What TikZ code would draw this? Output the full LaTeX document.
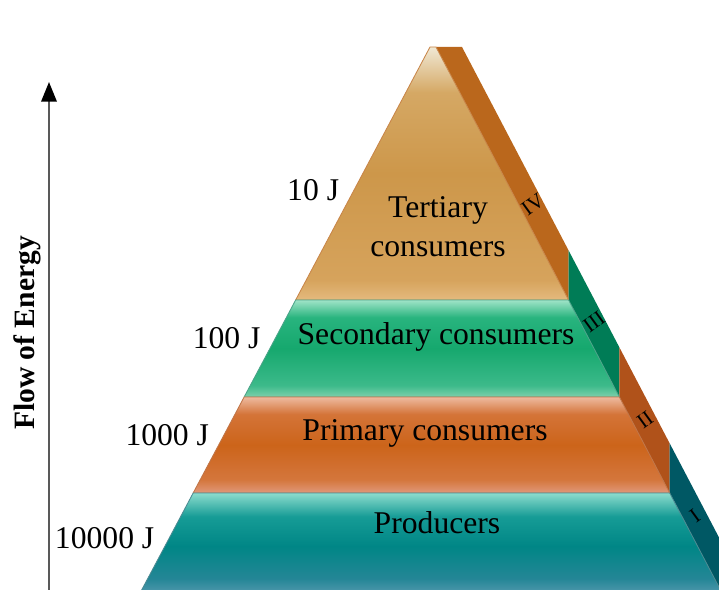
\documentclass[tikz,border=0pt]{standalone}
\usepackage{fontspec}
\setmainfont{Liberation Serif}
\usetikzlibrary{arrows.meta}

% side faces
\definecolor{SideFour}{RGB}{186,103,28}
\definecolor{SideThree}{RGB}{0,124,86}
\definecolor{SideTwo}{RGB}{176,82,26}
\definecolor{SideOne}{RGB}{0,88,100}

% front faces
\definecolor{TerA}{RGB}{228,186,126}
\definecolor{TerB}{RGB}{214,163,92}
\definecolor{TerC}{RGB}{205,151,74}
\definecolor{TerD}{RGB}{213,168,100}
\definecolor{TerE}{RGB}{240,232,212}
\definecolor{SecA}{RGB}{125,208,172}
\definecolor{SecB}{RGB}{60,186,138}
\definecolor{SecC}{RGB}{22,168,110}
\definecolor{SecD}{RGB}{40,180,126}
\definecolor{SecE}{RGB}{160,228,200}
\definecolor{PriA}{RGB}{224,152,122}
\definecolor{PriB}{RGB}{212,118,60}
\definecolor{PriC}{RGB}{204,100,26}
\definecolor{PriD}{RGB}{212,116,56}
\definecolor{PriE}{RGB}{238,186,160}
\definecolor{ProA}{RGB}{100,160,182}
\definecolor{ProB}{RGB}{36,134,150}
\definecolor{ProC}{RGB}{0,134,134}
\definecolor{ProD}{RGB}{22,156,150}
\definecolor{ProE}{RGB}{140,220,205}

\pgfdeclareverticalshading{tertiaryshade}{100bp}{color(0bp)=(TerA); color(25bp)=(TerA); color(29bp)=(TerB); color(50bp)=(TerC); color(66bp)=(TerD); color(75bp)=(TerE); color(100bp)=(TerE)}
\pgfdeclareverticalshading{secondaryshade}{100bp}{color(0bp)=(SecA); color(25bp)=(SecA); color(31bp)=(SecB); color(50bp)=(SecC); color(66bp)=(SecD); color(75bp)=(SecE); color(100bp)=(SecE)}
\pgfdeclareverticalshading{primaryshade}{100bp}{color(0bp)=(PriA); color(25bp)=(PriA); color(32bp)=(PriB); color(50bp)=(PriC); color(66bp)=(PriD); color(75bp)=(PriE); color(100bp)=(PriE)}
\pgfdeclareverticalshading{producershade}{100bp}{color(0bp)=(ProA); color(25bp)=(ProA); color(35bp)=(ProB); color(50bp)=(ProC); color(64bp)=(ProD); color(75bp)=(ProE); color(100bp)=(ProE)}

\tikzset{
	label text/.style={font=\fontsize{22.5}{27.5}\selectfont},
	side text/.style={font=\fontsize{15}{17}\selectfont, rotate=36, inner sep=0pt},
}

\begin{document}
\begin{tikzpicture}
	[x=0.025cm, y=-0.025cm, >={Triangle[length=14pt,width=11pt,black]}]

	\useasboundingbox (0,0) rectangle (719,590);
	\clip (0,0) rectangle (719,590);

	% edges of the pyramid
	\newcommand{\LeftX}[1]{430-0.531*(#1-47)}
	\newcommand{\RightX}[1]{436+0.524*(#1-47)}
	\newcommand{\SideRise}{49.6}

	% flow of energy
	\begin{scope}
		\coordinate (foot) at (49,590);
		\coordinate (tip) at (49,82);
		\draw [->, line width=1.4pt, black!65] (foot) -- (tip);
		\node (flow) at (27,333) [rotate=90, font=\fontsize{21}{25}\selectfont\bfseries] {Flow of Energy};
	\end{scope}

	% side faces
	\begin{scope}
		\fill [SideFour] (436,47) -- (462,47) -- ({\RightX{300}},300-\SideRise) -- ({\RightX{300}},300) -- cycle;
		\fill [SideThree] ({\RightX{300}},300) -- ({\RightX{300}},300-\SideRise) -- ({\RightX{397}},397-\SideRise) -- ({\RightX{397}},397) -- cycle;
		\fill [SideTwo] ({\RightX{397}},397) -- ({\RightX{397}},397-\SideRise) -- ({\RightX{493}},493-\SideRise) -- ({\RightX{493}},493) -- cycle;
		\fill [SideOne] ({\RightX{493}},493) -- ({\RightX{493}},493-\SideRise) -- ({\RightX{650}},650-\SideRise) -- ({\RightX{650}},650) -- cycle;
	\end{scope}

	% front faces
	\begin{scope} [line width=0.6pt]
		\shade [shading=tertiaryshade, draw=SideFour!80] (430,47) -- (436,47) -- ({\RightX{300}},300) -- ({\LeftX{300}},300) -- cycle;
		\shade [shading=secondaryshade, draw=SideThree!70] ({\LeftX{300}},300) -- ({\RightX{300}},300) -- ({\RightX{397}},397) -- ({\LeftX{397}},397) -- cycle;
		\shade [shading=primaryshade, draw=SideTwo!80] ({\LeftX{397}},397) -- ({\RightX{397}},397) -- ({\RightX{493}},493) -- ({\LeftX{493}},493) -- cycle;
		\shade [shading=producershade, draw=SideOne!70] ({\LeftX{493}},493) -- ({\RightX{493}},493) -- ({\RightX{600}},600) -- ({\LeftX{600}},600) -- cycle;
	\end{scope}

	% layer names
	\begin{scope} [every node/.style={label text}]
		\node (tertiary) at (438,227) [align=center] {Tertiary\\consumers};
		\node (secondary) at (436,337) {Secondary consumers};
		\node (primary) at (425,433) {Primary consumers};
		\node (producers) at (437,523) {Producers};
	\end{scope}

	% energy at each level
	\begin{scope} [every node/.style={label text}]
		\foreach \y/\e in {190/10, 338/100, 435/1000, 538/10000} {
			\node (energy-\e) at ({\LeftX{\y}-10},\y) [anchor=east] {\e~J};
		}
	\end{scope}

	% trophic levels on the side
	\begin{scope} [every node/.style={side text}]
		\node (level-IV) at (533,205) {IV};
		\node (level-III) at (594,322) {III};
		\node (level-II) at (645,420) {II};
		\node (level-I) at (695,516) {I};
	\end{scope}

\end{tikzpicture}
\end{document}
